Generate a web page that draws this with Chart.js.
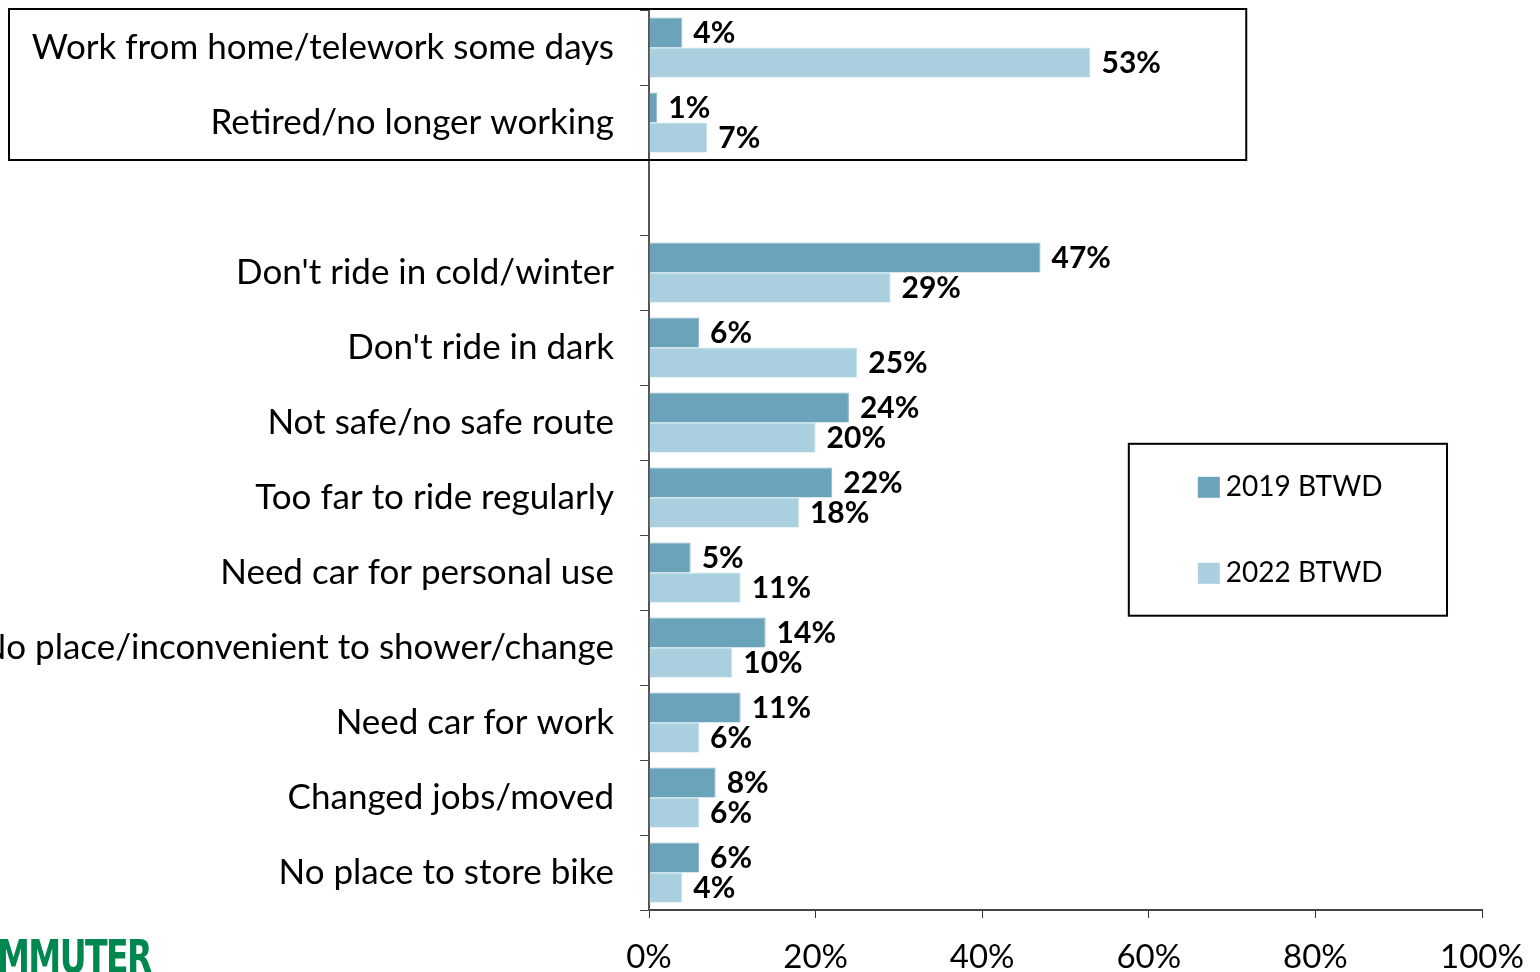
<!DOCTYPE html>
<html><head><meta charset="utf-8">
<script src="https://cdn.jsdelivr.net/npm/chart.js@4/dist/chart.umd.min.js"></script>
<style>
html,body{margin:0;padding:0;background:#fff;overflow:hidden}
#wrap{position:relative;width:1540px;height:972px;overflow:hidden}
#logo{position:absolute;left:-3px;top:930px;font:bold 46px "DejaVu Sans Condensed","DejaVu Sans";color:#00864F;letter-spacing:-2px;transform:scaleX(0.8);transform-origin:left top}
</style></head><body>
<div id="wrap"><canvas id="c" width="1540" height="972"></canvas><div id="logo">MMUTER</div></div>
<script>
const categories = [
  'Work from home/telework some days',
  'Retired/no longer working',
  '',
  "Don't ride in cold/winter",
  "Don't ride in dark",
  'Not safe/no safe route',
  'Too far to ride regularly',
  'Need car for personal use',
  'No place/inconvenient to shower/change',
  'Need car for work',
  'Changed jobs/moved',
  'No place to store bike'
];
const series2019 = [4, 1, null, 47, 6, 24, 22, 5, 14, 11, 8, 6];
const series2022 = [53, 7, null, 29, 25, 20, 18, 11, 10, 6, 6, 4];
const seriesNames = ['2019 BTWD', '2022 BTWD'];
const xTickValues = [0, 20, 40, 60, 80, 100];

const colors = ['#6BA3BB', '#AACFDF'];
const FONT = 'Lato';

const valueLabels = {
  id: 'valueLabels',
  afterDatasetsDraw(chart) {
    const ctx = chart.ctx;
    ctx.save();
    ctx.font = 'bold 30px ' + FONT;
    ctx.fillStyle = '#000';
    ctx.textAlign = 'left';
    ctx.textBaseline = 'middle';
    chart.data.datasets.forEach((ds, di) => {
      const meta = chart.getDatasetMeta(di);
      meta.data.forEach((bar, i) => {
        const v = ds.data[i];
        if (v === null || v === undefined) return;
        ctx.fillText(v + '%', bar.x + 11, bar.y + 1);
      });
    });
    ctx.restore();
  }
};

const boxes = {
  id: 'boxes',
  afterDraw(chart) {
    const ctx = chart.ctx;
    const xs = chart.scales.x, ys = chart.scales.y;
    const catH = (ys.bottom - ys.top) / categories.length;
    ctx.save();
    ctx.strokeStyle = '#000';
    ctx.lineWidth = 2;
    const top = ys.getPixelForValue(0) - catH / 2 - 1;
    const bot = ys.getPixelForValue(1) + catH / 2;
    ctx.strokeRect(9, top, xs.getPixelForValue(71.7) - 9, bot - top);
    const ca = chart.chartArea;
    const lx = xs.getPixelForValue(57.6), rx = xs.getPixelForValue(95.8);
    const ly = ca.top + 0.482 * (ca.bottom - ca.top), by = ca.top + 0.673 * (ca.bottom - ca.top);
    ctx.strokeRect(lx, ly, rx - lx, by - ly);
    ctx.font = '28px ' + FONT;
    ctx.textBaseline = 'middle';
    ctx.textAlign = 'left';
    seriesNames.forEach((n, i) => {
      const cy = ly + 43 + i * 86;
      ctx.fillStyle = colors[i];
      ctx.fillRect(lx + 69, cy - 10, 22, 21);
      ctx.fillStyle = '#000';
      ctx.fillText(n, lx + 97, cy);
    });
    ctx.restore();
  }
};

new Chart(document.getElementById('c'), {
  type: 'bar',
  data: {
    labels: categories,
    datasets: [
      { label: seriesNames[0], data: series2019, backgroundColor: colors[0], borderColor: '#8DB8CA', borderWidth: {right: 1, top: 1}, borderSkipped: 'start', categoryPercentage: 0.8, barPercentage: 1.0 },
      { label: seriesNames[1], data: series2022, backgroundColor: colors[1], borderColor: '#C4DFEA', borderWidth: {right: 1, top: 1}, borderSkipped: 'start', categoryPercentage: 0.8, barPercentage: 1.0 }
    ]
  },
  options: {
    indexAxis: 'y',
    responsive: false,
    animation: false,
    layout: { padding: { top: 10, right: 58, left: 0, bottom: 0 } },
    plugins: { legend: { display: false }, tooltip: { enabled: false } },
    scales: {
      x: {
        min: 0, max: 100,
        afterBuildTicks(s) { s.ticks = xTickValues.map(v => ({ value: v })); },
        ticks: { callback: v => v + '%', font: { family: FONT, size: 33 }, color: '#000', padding: 20, maxRotation: 0 },
        grid: { drawOnChartArea: false, tickLength: 8, color: '#333', lineWidth: 1 },
        border: { color: '#444', width: 2 },
        afterFit(s) { s.height = 62; s.paddingLeft = 0; s.paddingRight = 0; }
      },
      y: {
        ticks: { font: { family: FONT, size: 35 }, color: '#000', padding: 26, autoSkip: false },
        grid: { offset: true, drawOnChartArea: false, tickLength: 9, color: '#444', lineWidth: 1 },
        border: { color: '#555', width: 2 },
        afterFit(s) { s.width = 649; s.paddingTop = 0; s.paddingBottom = 0; }
      }
    }
  },
  plugins: [valueLabels, boxes]
});
</script>
</body></html>
